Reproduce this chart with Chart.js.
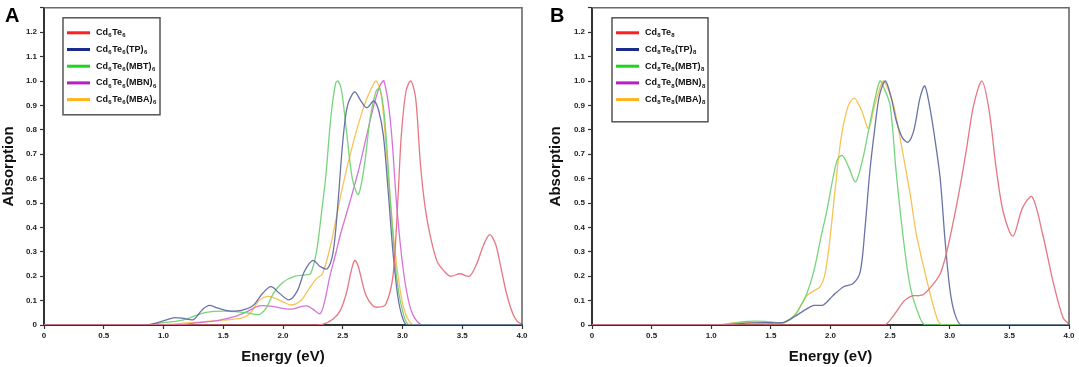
<!DOCTYPE html>
<html><head><meta charset="utf-8">
<script src="https://cdn.jsdelivr.net/npm/chart.js@4.4.1/dist/chart.umd.min.js"></script>
<style>
html,body{margin:0;padding:0;background:#fff;width:1079px;height:367px;overflow:hidden}
.p{position:absolute;top:0;height:367px}
#wa{left:0;width:540px}
#wb{left:547px;width:532px}
.lab{position:absolute;font:bold 20px "Liberation Sans",Arial,sans-serif;line-height:20px;color:#000}
</style></head><body>
<div id="wa" class="p"><canvas id="ca"></canvas></div>
<div id="wb" class="p"><canvas id="cb"></canvas></div>
<div class="lab" style="left:5px;top:5px">A</div>
<div class="lab" style="left:550px;top:5px">B</div>
<script>
// ---------- tick labels ----------
const xTickLabels = ['0','0.5','1.0','1.5','2.0','2.5','3.0','3.5','4.0'];
const yTickLabels = ['0','0.1','0.2','0.3','0.4','0.5','0.6','0.7','0.8','0.9','1.0','1.1','1.2',''];
const xTitle = 'Energy (eV)';
const yTitle = 'Absorption';

// ---------- legend names (text, subscript, text, subscript ...) ----------
const namesA = [['Cd','6','Te','6'],['Cd','6','Te','6','(TP)','6'],['Cd','6','Te','6','(MBT)','6'],['Cd','6','Te','6','(MBN)','6'],['Cd','6','Te','6','(MBA)','6']];
const namesB = [['Cd','8','Te','8'],['Cd','8','Te','8','(TP)','8'],['Cd','8','Te','8','(MBT)','8'],['Cd','8','Te','8','(MBN)','8'],['Cd','8','Te','8','(MBA)','8']];

// ---------- Panel A data ----------
const aCdTeE = [0,2.2,2.33,2.42,2.48,2.53,2.57,2.6,2.63,2.69,2.75,2.8,2.86,2.92,2.96,2.99,3.03,3.07,3.11,3.15,3.19,3.23,3.29,3.35,3.4,3.48,3.56,3.62,3.68,3.73,3.78,3.83,3.87,3.92,3.96,4.0];
const aCdTeY = [0,0,0.003,0.025,0.06,0.13,0.22,0.265,0.24,0.127,0.08,0.073,0.085,0.2,0.5,0.776,0.96,1.0,0.93,0.66,0.48,0.37,0.26,0.22,0.2,0.21,0.2,0.25,0.33,0.37,0.33,0.22,0.13,0.05,0.015,0.003];

const aTPE = [0,0.85,0.95,1.05,1.1,1.17,1.25,1.32,1.38,1.45,1.55,1.65,1.75,1.83,1.9,1.97,2.05,2.12,2.18,2.25,2.31,2.37,2.42,2.46,2.5,2.54,2.6,2.65,2.7,2.76,2.8,2.84,2.88,2.92,2.96,3.0,3.04,4.0];
const aTPY = [0,0,0.01,0.025,0.03,0.027,0.022,0.06,0.08,0.07,0.058,0.06,0.08,0.13,0.157,0.13,0.103,0.14,0.22,0.265,0.24,0.23,0.3,0.5,0.75,0.9,0.955,0.92,0.89,0.918,0.88,0.776,0.55,0.3,0.12,0.03,0,0];

const aMBTE = [0,0.85,1.0,1.1,1.2,1.3,1.4,1.5,1.6,1.7,1.8,1.86,1.92,2.0,2.1,2.18,2.23,2.28,2.32,2.36,2.4,2.44,2.46,2.49,2.53,2.58,2.63,2.68,2.73,2.78,2.81,2.85,2.9,2.95,3.0,3.06,4.0];
const aMBTY = [0,0,0.01,0.015,0.025,0.045,0.055,0.057,0.055,0.05,0.043,0.07,0.13,0.175,0.2,0.205,0.21,0.3,0.45,0.62,0.85,0.99,1.0,0.96,0.8,0.6,0.535,0.65,0.85,0.96,0.97,0.85,0.5,0.2,0.06,0,0];

const aMBNE = [0,1.1,1.3,1.45,1.6,1.7,1.8,1.9,2.0,2.07,2.15,2.2,2.25,2.31,2.35,2.39,2.44,2.48,2.56,2.63,2.7,2.76,2.81,2.845,2.9,2.95,3.0,3.05,3.1,3.17,4.0];
const aMBNY = [0,0,0.01,0.018,0.035,0.055,0.078,0.077,0.068,0.065,0.075,0.078,0.065,0.046,0.1,0.195,0.29,0.37,0.505,0.63,0.776,0.9,0.98,1.0,0.83,0.5,0.25,0.1,0.03,0,0];

const aMBAE = [0,0.95,1.1,1.3,1.5,1.65,1.72,1.8,1.87,1.93,2.0,2.07,2.15,2.22,2.28,2.33,2.4,2.5,2.6,2.68,2.74,2.78,2.82,2.86,2.9,2.95,3.0,3.05,3.1,4.0];
const aMBAY = [0,0,0.005,0.012,0.02,0.028,0.045,0.1,0.117,0.11,0.095,0.082,0.1,0.15,0.19,0.21,0.33,0.57,0.77,0.9,0.97,1.0,0.95,0.75,0.5,0.25,0.09,0.02,0,0];

// ---------- Panel B data ----------
const bCdTeE = [0,2.45,2.5,2.56,2.62,2.69,2.74,2.78,2.85,2.92,2.97,3.02,3.08,3.14,3.2,3.27,3.33,3.39,3.45,3.53,3.61,3.69,3.78,3.87,3.95,4.0];
const bCdTeY = [0,0,0.02,0.06,0.1,0.12,0.12,0.125,0.16,0.21,0.29,0.4,0.55,0.72,0.9,1.0,0.88,0.64,0.46,0.364,0.48,0.526,0.37,0.17,0.03,0.003];

const bTPE = [0,1.1,1.3,1.45,1.6,1.7,1.78,1.86,1.94,2.02,2.11,2.19,2.25,2.29,2.33,2.37,2.41,2.46,2.51,2.55,2.6,2.65,2.7,2.75,2.79,2.83,2.87,2.92,2.96,3.0,3.04,3.1,4.0];
const bTPY = [0,0,0.008,0.01,0.01,0.035,0.06,0.08,0.082,0.12,0.157,0.17,0.22,0.4,0.63,0.8,0.94,1.0,0.93,0.84,0.77,0.749,0.8,0.93,0.98,0.9,0.78,0.6,0.35,0.15,0.05,0,0];

const bMBTE = [0,1.05,1.2,1.3,1.45,1.55,1.62,1.7,1.75,1.8,1.86,1.92,1.97,2.02,2.06,2.1,2.15,2.21,2.27,2.32,2.37,2.415,2.45,2.5,2.55,2.61,2.67,2.75,2.8,4.0];
const bMBTY = [0,0,0.008,0.015,0.015,0.01,0.012,0.04,0.08,0.127,0.22,0.36,0.47,0.6,0.68,0.695,0.65,0.587,0.68,0.8,0.92,1.0,0.97,0.9,0.63,0.357,0.154,0.03,0,0];

const bMBNE = [];
const bMBNY = [];

const bMBAE = [0,1.05,1.15,1.25,1.35,1.45,1.55,1.62,1.7,1.76,1.8,1.86,1.91,1.95,1.99,2.04,2.09,2.15,2.2,2.26,2.32,2.37,2.44,2.48,2.53,2.61,2.67,2.72,2.79,2.85,2.9,2.94,4.0];
const bMBAY = [0,0,0.006,0.012,0.01,0.006,0.006,0.01,0.04,0.085,0.12,0.14,0.155,0.2,0.33,0.56,0.77,0.9,0.93,0.88,0.805,0.9,1.0,0.97,0.9,0.695,0.53,0.37,0.22,0.1,0.02,0,0];

// ---------- styles ----------
const curveColors = ['rgba(228,112,124,0.95)','rgba(98,108,162,0.95)','rgba(112,210,118,0.95)','rgba(212,108,216,0.95)','rgba(246,192,78,0.95)'];
const legendColors = ['#ff1f1f','#1a2b8c','#1ed41e','#b51fc4','#ffb21a'];
const FONT = '"Liberation Sans", Arial, sans-serif';

function pts(E, Y){ return E.map((e,i)=>({x:e,y:Y[i]})); }

function makeDatasets(series){
  return series.map((s,i)=>({
    label: s.name.join(''),
    data: pts(s.E, s.Y),
    borderColor: curveColors[i],
    backgroundColor: curveColors[i],
    borderWidth: 1.3,
    pointRadius: 0,
    fill: false,
    tension: 0.3
  }));
}

const framePlugin = {
  id: 'frame',
  afterDraw(chart, args, opts){
    const {ctx, chartArea: a} = chart;
    ctx.save();
    ctx.strokeStyle = '#6a6a6a';
    ctx.lineWidth = 1.6;
    ctx.beginPath();
    ctx.moveTo(a.left, a.top); ctx.lineTo(a.right, a.top); ctx.lineTo(a.right, a.bottom);
    ctx.stroke();
    // legend box
    const bx = a.left + opts.dx, by = a.top + opts.dy;
    ctx.strokeStyle = '#555';
    ctx.lineWidth = 1.5;
    ctx.strokeRect(bx, by, opts.w, opts.h);
    opts.names.forEach((parts, i) => {
      const y = by + 15 + i * 16.7;
      ctx.strokeStyle = legendColors[i];
      ctx.lineWidth = 3;
      ctx.beginPath(); ctx.moveTo(bx + 4, y); ctx.lineTo(bx + 27, y); ctx.stroke();
      let x = bx + 33;
      ctx.fillStyle = '#111';
      ctx.textBaseline = 'middle';
      ctx.textAlign = 'left';
      parts.forEach((t, k) => {
        const sub = (k % 2 === 1);
        ctx.font = 'bold ' + (sub ? 6 : 9) + 'px ' + FONT;
        ctx.fillText(t, x, sub ? y + 3 : y);
        x += ctx.measureText(t).width + (sub ? 0.5 : 0.3);
      });
    });
    ctx.restore();
  }
};

function makeChart(id, series, yWidth, padRight, legendOpts){
  return new Chart(document.getElementById(id), {
    type: 'line',
    data: { datasets: makeDatasets(series) },
    options: {
      responsive: true,
      maintainAspectRatio: false,
      animation: false,
      layout: { padding: { top: 3, right: padRight, left: 0, bottom: 0 } },
      plugins: { legend: { display: false }, tooltip: { enabled: false }, frame: legendOpts },
      scales: {
        x: {
          type: 'linear', min: 0, max: 4,
          ticks: { stepSize: 0.5, autoSkip: false, maxRotation: 0, padding: 2, color: '#222',
                   font: { family: FONT, size: 8, weight: 'bold' },
                   callback: (v, i) => xTickLabels[i] },
          grid: { drawOnChartArea: false, drawTicks: true, tickLength: 4, color: '#333', tickWidth: 1.2 },
          border: { display: true, color: '#333', width: 2 },
          title: { display: true, text: xTitle, color: '#111', padding: { top: 0, bottom: 1 },
                   font: { family: FONT, size: 15, weight: 'bold' } },
          afterFit: s => { s.height = 42; }
        },
        y: {
          type: 'linear', min: 0, max: 1.3,
          ticks: { stepSize: 0.1, autoSkip: false, padding: 3, color: '#222',
                   font: { family: FONT, size: 8, weight: 'bold' },
                   callback: (v, i) => yTickLabels[i] },
          grid: { drawOnChartArea: false, drawTicks: true, tickLength: 4, color: '#333', tickWidth: 1.2 },
          border: { display: true, color: '#333', width: 2 },
          title: { display: true, text: yTitle, color: '#111', padding: { top: 0, bottom: 0 },
                   font: { family: FONT, size: 15, weight: 'bold' } },
          afterFit: s => { s.width = yWidth; }
        }
      }
    },
    plugins: [framePlugin]
  });
}

const seriesA = [
  { name: namesA[0], E: aCdTeE, Y: aCdTeY },
  { name: namesA[1], E: aTPE,   Y: aTPY },
  { name: namesA[2], E: aMBTE,  Y: aMBTY },
  { name: namesA[3], E: aMBNE,  Y: aMBNY },
  { name: namesA[4], E: aMBAE,  Y: aMBAY }
];
const seriesB = [
  { name: namesB[0], E: bCdTeE, Y: bCdTeY },
  { name: namesB[1], E: bTPE,   Y: bTPY },
  { name: namesB[2], E: bMBTE,  Y: bMBTY },
  { name: namesB[3], E: bMBNE,  Y: bMBNY },
  { name: namesB[4], E: bMBAE,  Y: bMBAY }
];

makeChart('ca', seriesA, 44, 18, { dx: 19, dy: 10, w: 97, h: 97, names: namesA });
makeChart('cb', seriesB, 45, 10, { dx: 20, dy: 10, w: 96, h: 104, names: namesB });
</script>
</body></html>
